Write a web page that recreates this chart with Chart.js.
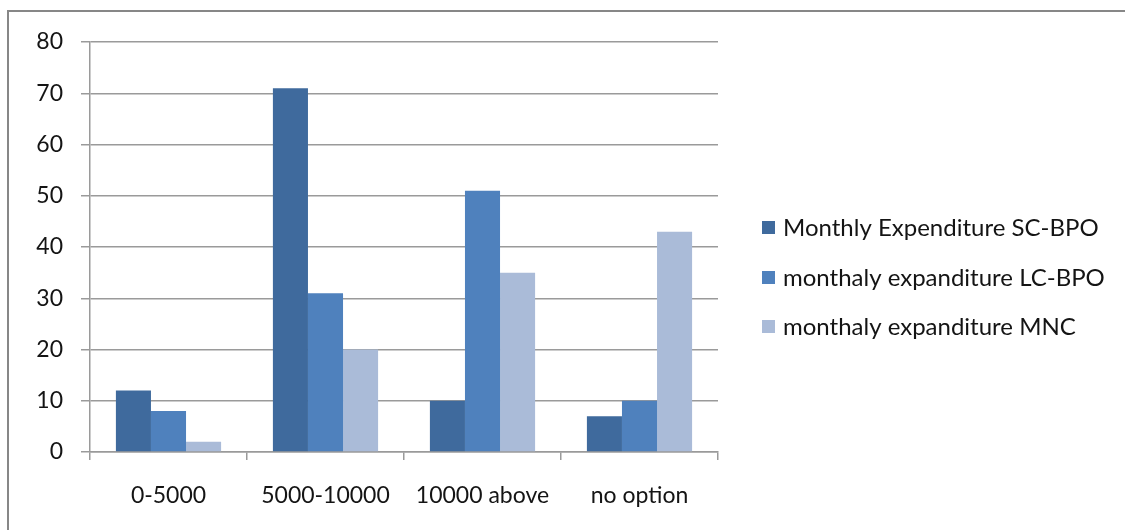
<!DOCTYPE html>
<html>
<head>
<meta charset="utf-8">
<script src="https://cdn.jsdelivr.net/npm/chart.js@4/dist/chart.umd.min.js"></script>
<style>
  html, body { margin: 0; padding: 0; background: #ffffff; }
  #wrap { width: 1125px; height: 530px; position: relative; }
</style>
</head>
<body>
<div id="wrap"><canvas id="c" width="1125" height="530"></canvas></div>
<script>
// Spending bands on the x axis
const categories = ['0-5000', '5000-10000', '10000 above', 'no option'];

// Series names
const seriesNames = [
  'Monthly Expenditure SC-BPO',
  'monthaly expanditure LC-BPO',
  'monthaly expanditure MNC'
];

// Responses per band, one array per series
const scBpo = [12, 71, 10, 7];
const lcBpo = [8, 31, 51, 10];
const mnc   = [2, 20, 35, 43];

// Value axis ticks
const yTicks = [0, 10, 20, 30, 40, 50, 60, 70, 80];

const seriesColors = ['#3f6a9d', '#4f81bd', '#aabbd8'];
const FONT = 'Lato, "Open Sans", sans-serif';
const gridGrey = '#9a9a9a';

// Frame line along the top and left edges, plus white background
const framePlugin = {
  id: 'frame',
  beforeDraw(chart) {
    const ctx = chart.ctx;
    ctx.save();
    ctx.fillStyle = '#ffffff';
    ctx.fillRect(0, 0, chart.width, chart.height);
    ctx.strokeStyle = '#878787';
    ctx.lineWidth = 2;
    ctx.beginPath();
    ctx.moveTo(chart.width, 11);
    ctx.lineTo(8, 11);
    ctx.lineTo(8, chart.height);
    ctx.stroke();
    ctx.restore();
  }
};

// Legend to the right of the plot
const sideLegend = {
  id: 'sideLegend',
  afterDraw(chart) {
    const ctx = chart.ctx;
    const rowsY = [227, 277, 326];
    ctx.save();
    ctx.font = '24px ' + FONT;
    ctx.textBaseline = 'middle';
    ctx.textAlign = 'left';
    chart.data.datasets.forEach((ds, i) => {
      const y = rowsY[i];
      ctx.fillStyle = ds.backgroundColor;
      ctx.fillRect(762, y - 6, 13, 13);
      ctx.fillStyle = '#141414';
      ctx.fillText(ds.label, 783, y + 1);
    });
    ctx.restore();
  }
};

const datasets = [scBpo, lcBpo, mnc].map((vals, i) => ({
  label: seriesNames[i],
  data: vals,
  backgroundColor: seriesColors[i],
  borderWidth: 0,
  categoryPercentage: 0.67,
  barPercentage: 1.0
}));

new Chart(document.getElementById('c'), {
  type: 'bar',
  data: { labels: categories, datasets },
  plugins: [framePlugin, sideLegend],
  options: {
    responsive: false,
    animation: false,
    devicePixelRatio: 1,
    layout: { padding: { left: 0, top: 42, right: 407, bottom: 0 } },
    plugins: {
      legend: { display: false },
      tooltip: { enabled: false }
    },
    scales: {
      x: {
        offset: true,
        afterFit(scale) { scale.height = 78; },
        grid: {
          offset: true,
          drawOnChartArea: false,
          drawTicks: true,
          tickLength: 8,
          color: gridGrey,
          lineWidth: 1.5
        },
        border: { display: true, color: gridGrey, width: 1.5 },
        ticks: {
          padding: 22,
          color: '#141414',
          font: { family: FONT, size: 23 },
          maxRotation: 0
        }
      },
      y: {
        min: 0,
        max: 80,
        afterFit(scale) { scale.width = 90; },
        afterBuildTicks(scale) { scale.ticks = yTicks.map(v => ({ value: v })); },
        grid: {
          color: gridGrey,
          lineWidth: 1.5,
          drawTicks: true,
          tickLength: 9
        },
        border: { display: true, color: gridGrey, width: 1.5 },
        ticks: {
          padding: 18,
          color: '#141414',
          font: { family: FONT, size: 23 }
        }
      }
    }
  }
});
</script>
</body>
</html>
